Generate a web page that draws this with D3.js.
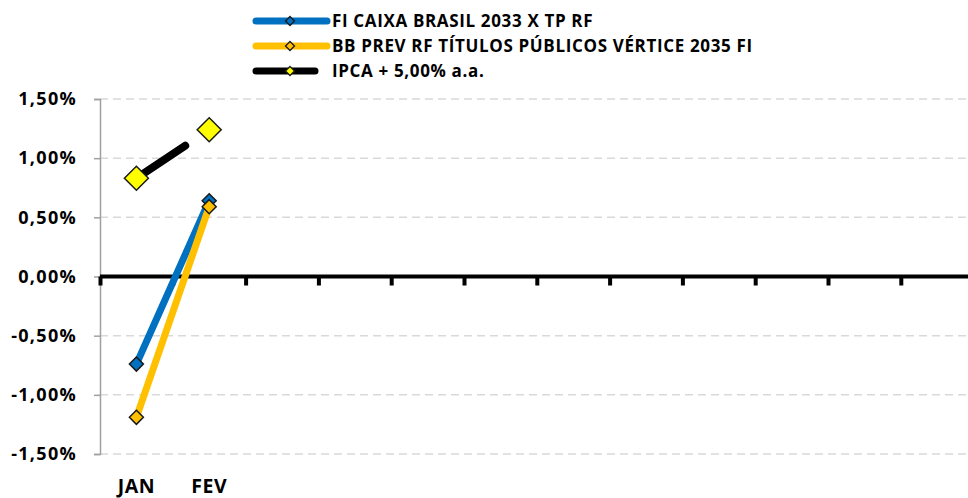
<!DOCTYPE html>
<html><head><meta charset="utf-8">
<script src="https://cdn.jsdelivr.net/npm/d3@7"></script>
<style>html,body{margin:0;padding:0;background:#fff;}svg{display:block;font-family:"Open Sans",sans-serif;font-weight:bold;}</style>
</head><body>
<svg id="c" width="968" height="498"></svg>
<script>
const categories = ["JAN","FEV","MAR","ABR","MAI","JUN","JUL","AGO","SET","OUT","NOV","DEZ"];
const tickLabels = ["JAN","FEV","","","","","","","","","",""];
const seriesNames = ["FI CAIXA BRASIL 2033 X TP RF","BB PREV RF TÍTULOS PÚBLICOS VÉRTICE 2035 FI","IPCA + 5,00% a.a."];
const caixa = [-0.74, 0.64];
const bbprev = [-1.19, 0.59];
const ipca = [0.83, 1.24];
const yTicks = [-1.5,-1.0,-0.5,0,0.5,1.0,1.5];

const FONT = "'Open Sans', sans-serif";
const svg = d3.select("#c");
const x = d3.scaleBand().domain(categories).range([100, 973.6]);
const y = d3.scaleLinear().domain([-1.5, 1.5]).range([454, 99]);
const cx = i => x(categories[i]) + x.bandwidth()/2;
const fmt = v => d3.format(".2f")(v).replace(".", ",").replace("\u2212", "-") + "%";

// gridlines
svg.append("g").selectAll("line").data(yTicks.filter(v => v !== 0)).join("line")
  .attr("x1", 100).attr("x2", 968).attr("y1", d => y(d)).attr("y2", d => y(d))
  .attr("stroke", "#d9d9d9").attr("stroke-width", 1.5).attr("stroke-dasharray", "8,5");

// y axis
const yAxis = svg.append("g").attr("transform", "translate(100,0)")
  .call(d3.axisLeft(y).tickValues(yTicks).tickSize(6).tickPadding(17).tickFormat(fmt));
yAxis.select(".domain").attr("stroke", "#a0a0a0").attr("stroke-width", 1.5);
yAxis.selectAll(".tick line").attr("stroke", "#a0a0a0").attr("stroke-width", 1.5);
yAxis.selectAll("text").attr("font-size", 18).attr("font-weight", "bold").attr("fill", "#000")
  .attr("font-family", FONT).attr("letter-spacing", 1.3);

// zero line with category ticks
const bounds = categories.map(c => x(c));
svg.append("g").selectAll("rect").data(bounds).join("rect")
  .attr("x", d => d - 1.5).attr("y", y(0)).attr("width", 4).attr("height", 9).attr("fill", "#000");
svg.append("line").attr("x1", 100).attr("x2", 968).attr("y1", y(0)).attr("y2", y(0))
  .attr("stroke", "#000").attr("stroke-width", 4);

// x labels
svg.append("g").selectAll("text").data(tickLabels).join("text")
  .attr("x", (d, i) => cx(i)).attr("y", 493).attr("text-anchor", "middle")
  .attr("font-size", 19.5).attr("letter-spacing", 0.5).attr("font-family", FONT).text(d => d);

const diamond = (s) => `M0,${-s}L${s},0L0,${s}L${-s},0Z`;
const line = d3.line().x((d, i) => cx(i)).y(d => y(d));

function drawSeries(vals, color, mfill, msize) {
  svg.append("path").datum(vals).attr("d", line).attr("fill", "none")
    .attr("stroke", color).attr("stroke-width", 7).attr("stroke-linecap", "round");
  svg.append("g").selectAll("path").data(vals).join("path")
    .attr("transform", (d, i) => `translate(${cx(i)},${y(d)})`)
    .attr("d", diamond(msize)).attr("fill", mfill).attr("stroke", "#1a1a1a").attr("stroke-width", 1.5);
}
drawSeries(caixa, "#0070C0", "#0070C0", 7);
drawSeries(bbprev, "#FFC000", "#FFC000", 7);

// IPCA: partial segment then markers
const frac = 0.67;
const ex = cx(0) + (cx(1) - cx(0)) * frac;
const ey = y(ipca[0] + (ipca[1] - ipca[0]) * frac);
svg.append("line").attr("x1", cx(0)).attr("y1", y(ipca[0])).attr("x2", ex).attr("y2", ey)
  .attr("stroke", "#000").attr("stroke-width", 8).attr("stroke-linecap", "round");
svg.append("g").selectAll("path").data(ipca).join("path")
  .attr("transform", (d, i) => `translate(${cx(i)},${y(d)})`)
  .attr("d", diamond(12)).attr("fill", "#FFFF00").attr("stroke", "#1a1a1a").attr("stroke-width", 1.5);

// legend
const legColors = ["#0070C0", "#FFC000", "#000"];
const legFill = ["#0070C0", "#FFC000", "#FFFF00"];
const legEnd = [327, 327, 315];
const legY = [21, 46, 71];
const lg = svg.append("g");
seriesNames.forEach((n, i) => {
  lg.append("line").attr("x1", 256).attr("x2", legEnd[i]).attr("y1", legY[i]).attr("y2", legY[i])
    .attr("stroke", legColors[i]).attr("stroke-width", 7).attr("stroke-linecap", "round");
  lg.append("path").attr("transform", `translate(290,${legY[i]})`).attr("d", diamond(4.5))
    .attr("fill", legFill[i]).attr("stroke", "#1a1a1a").attr("stroke-width", 1.3);
  lg.append("text").attr("x", 332).attr("y", legY[i] + 6).attr("font-size", 17)
    .attr("letter-spacing", 0.65).attr("font-family", FONT).text(n);
});
</script>
</body></html>
